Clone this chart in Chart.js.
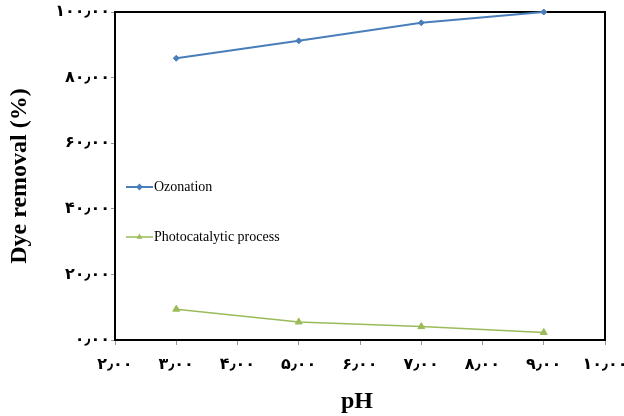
<!DOCTYPE html>
<html>
<head>
<meta charset="utf-8">
<script src="https://cdn.jsdelivr.net/npm/chart.js@4"></script>
<style>
  html, body { margin: 0; padding: 0; background: #fff; }
  #wrap { width: 624px; height: 416px; }
</style>
</head>
<body>
<div id="wrap"><canvas id="c" width="624" height="416"></canvas></div>
<script>
// ── data ────────────────────────────────────────────────
const phValues = [3, 5, 7, 9];
const ozonation = [85.9, 91.2, 96.7, 100];
const photocatalytic = [9.4, 5.5, 4.1, 2.3];

const xTickLabels = ["۲٫۰۰", "۳٫۰۰", "۴٫۰۰", "۵٫۰۰", "۶٫۰۰", "۷٫۰۰", "۸٫۰۰", "۹٫۰۰", "۱۰٫۰۰"]; // 2..10
const yTickLabels = ["۰٫۰۰", "۲۰٫۰۰", "۴۰٫۰۰", "۶۰٫۰۰", "۸۰٫۰۰", "۱۰۰٫۰۰"];           // 0..100

const BLUE = "#4a7ebb";
const GREEN = "#9bbb59";
const TICK_FONT = { family: "'DejaVu Sans', sans-serif", size: 16, weight: "bold" };

// ── plugins ─────────────────────────────────────────────
const frame = {
  id: "frame",
  beforeDatasetsDraw(chart) {
    const { ctx, chartArea: a } = chart;
    ctx.save();
    ctx.strokeStyle = "#000";
    ctx.lineWidth = 2;
    ctx.strokeRect(a.left, a.top, a.right - a.left, a.bottom - a.top);
    ctx.restore();
  },
};

const titles = {
  id: "titles",
  afterDraw(chart) {
    const { ctx } = chart;
    ctx.save();
    ctx.fillStyle = "#000";
    ctx.font = "bold 24px 'Liberation Serif', serif";
    ctx.textAlign = "center";
    ctx.textBaseline = "middle";
    ctx.fillText("pH", 357, 402);
    ctx.translate(20, 176);
    ctx.rotate(-Math.PI / 2);
    ctx.fillText("Dye removal (%)", 0, 0);
    ctx.restore();
  },
};

// legend drawn inside the plot area
const innerLegend = {
  id: "innerLegend",
  afterDraw(chart) {
    const { ctx } = chart;
    const rows = [187, 237];
    ctx.save();
    chart.data.datasets.forEach((ds, i) => {
      const y = rows[i];
      ctx.strokeStyle = ds.borderColor;
      ctx.lineWidth = ds.borderWidth;
      ctx.beginPath();
      ctx.moveTo(126, y);
      ctx.lineTo(153, y);
      ctx.stroke();
      ctx.fillStyle = ds.backgroundColor;
      Chart.helpers.drawPoint(ctx, {
        pointStyle: ds.pointStyle,
        radius: 2,
        borderWidth: 1,
      }, 139.5, y);
      ctx.fillStyle = "#000";
      ctx.font = "14px 'Liberation Serif', serif";
      ctx.textAlign = "left";
      ctx.textBaseline = "middle";
      ctx.fillText(ds.label, 154, y);
    });
    ctx.restore();
  },
};

// ── chart ───────────────────────────────────────────────
new Chart(document.getElementById("c"), {
  type: "line",
  data: {
    datasets: [
      {
        label: "Ozonation",
        data: phValues.map((x, i) => ({ x, y: ozonation[i] })),
        borderColor: BLUE,
        backgroundColor: BLUE,
        borderWidth: 2,
        pointStyle: "rectRot",
        pointRadius: 3,
        pointBorderWidth: 1,
        tension: 0,
      },
      {
        label: "Photocatalytic process",
        data: phValues.map((x, i) => ({ x, y: photocatalytic[i] })),
        borderColor: GREEN,
        backgroundColor: GREEN,
        borderWidth: 1.5,
        pointStyle: "triangle",
        pointRadius: 4,
        pointBorderWidth: 1,
        tension: 0,
      },
    ],
  },
  options: {
    responsive: false,
    animation: false,
    clip: false,
    layout: { padding: { top: 12, right: 19, left: 0, bottom: 0 } },
    plugins: { legend: { display: false }, tooltip: { enabled: false } },
    scales: {
      x: {
        type: "linear",
        min: 2,
        max: 10,
        afterFit(s) { s.height = 76; s.paddingLeft = 0; s.paddingRight = 0; },
        border: { display: false },
        grid: { drawOnChartArea: false, drawTicks: true, tickLength: 5, color: "#999" },
        ticks: {
          stepSize: 1,
          color: "#000",
          font: TICK_FONT,
          padding: 10,
          maxRotation: 0,
          callback: (v) => xTickLabels[v - 2],
        },
      },
      y: {
        min: 0,
        max: 100,
        afterFit(s) { s.width = 115; s.paddingTop = 0; s.paddingBottom = 0; },
        border: { display: false },
        grid: { drawOnChartArea: false, drawTicks: true, tickLength: 4, color: "#999" },
        ticks: {
          stepSize: 20,
          color: "#000",
          font: TICK_FONT,
          padding: 1,
          callback: (v) => yTickLabels[v / 20],
        },
      },
    },
  },
  plugins: [frame, titles, innerLegend],
});
</script>
</body>
</html>
